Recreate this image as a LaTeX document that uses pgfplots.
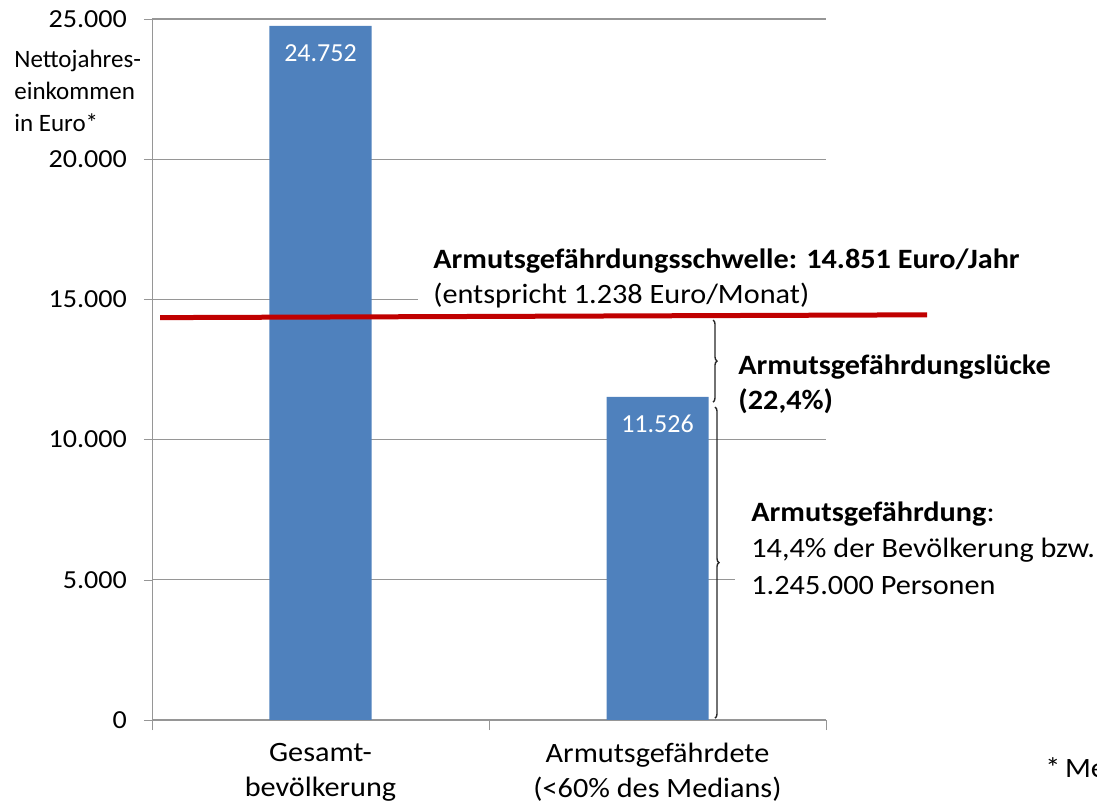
\documentclass[border=0pt]{standalone}
\usepackage{pgfplots}
\pgfplotsset{compat=1.18}
\usepackage{fontspec}
\setmainfont{Carlito}
\newfontfamily\annfont{Carlito}[FakeStretch=1.08]
\usetikzlibrary{decorations.pathreplacing}
\definecolor{barblue}{RGB}{79,129,189}
\definecolor{threshred}{RGB}{192,0,0}
\definecolor{gridgray}{RGB}{150,150,150}
\newcommand{\ann}{\annfont\fontsize{14}{16}\selectfont}
\begin{document}
\begin{tikzpicture}[font=\fontsize{12.5}{15}\selectfont]
\begin{axis}[
  at={(0pt,0pt)}, anchor=south west,
  scale only axis, width=337pt, height=350.5pt,
  xmin=-0.5, xmax=1.5, ymin=0, ymax=25000,
  axis x line*=bottom, axis y line*=left,
  axis line style={draw=gridgray},
  ytick={0,5000,10000,15000,20000,25000},
  scaled y ticks=false,
  ymajorgrids, grid style={draw=gridgray, line width=0.6pt},
  xtick={0,1},
  xticklabels={{Gesamt-\\bevölkerung},{Armutsgefährdete\\(<60\% des Medians)}},
  xticklabel style={align=center, font=\annfont\fontsize{14}{17.5}\selectfont, yshift=-4pt},
  minor xtick={-0.5,0.5,1.5},
  major x tick style={draw=none},
  minor x tick style={draw=gridgray},
  y tick style={draw=gridgray},
  tick align=outside, major tick length=4pt, minor tick length=5pt,
  yticklabel style={font=\annfont\fontsize{13}{15}\selectfont, xshift=-5pt},
  /pgf/number format/.cd, fixed, 1000 sep={.}, assume math mode=true,
  /pgfplots/.cd,
  clip=false,
  nodes near coords,
  every node near coord/.append style={anchor=base, yshift=-18pt, text=white, font=\fontsize{13}{15}\selectfont},
]
\addplot[ybar, bar width=51pt, fill=barblue, draw=none] coordinates {(0,24752) (1,11526)};
\addplot[threshred, line width=2.5pt, no marks, nodes near coords={}] coordinates {(-0.476,14350) (1.80,14450)};
\draw[line width=0.7pt, draw=black!85, decorate, decoration={brace, amplitude=2pt}] (axis cs:1.1647,14265) -- (axis cs:1.1647,11340);
\draw[line width=0.7pt, draw=black!85, decorate, decoration={brace, amplitude=2pt}] (axis cs:1.1706,11160) -- (axis cs:1.1706,70);
\end{axis}
\begin{scope}[x=0.5pt, y=-0.5pt, shift={(-76pt,360pt)}]
  % white boxes covering gridlines behind annotations
  \fill[white] (418,284) rectangle (826,306);
  \fill[white] (735,570) rectangle (826,598);
  \node[anchor=base west, inner sep=0] at (433,269) {\ann\bfseries Armutsgefährdungsschwelle: 14.851 Euro/Jahr};
  \node[anchor=base west, inner sep=0] at (433,304) {\ann (entspricht 1.238 Euro/Monat)};
  \node[anchor=base west, inner sep=0] at (738,375) {\ann\bfseries Armutsgefährdungslücke};
  \node[anchor=base west, inner sep=0] at (738,410) {\ann\bfseries (22,4\%)};
  \node[anchor=base west, inner sep=0] at (751,522) {\ann\textbf{Armutsgefährdung}:};
  \node[anchor=base west, inner sep=0] at (751,558) {\ann 14,4\% der Bevölkerung bzw.};
  \node[anchor=base west, inner sep=0] at (751,595) {\ann 1.245.000 Personen};
  \node[anchor=base west, inner sep=0] at (14,68) {Nettojahres-};
  \node[anchor=base west, inner sep=0] at (14,100) {einkommen};
  \node[anchor=base west, inner sep=0] at (14,132) {in Euro*};
  \node[anchor=base west, inner sep=0] at (1045,778) {\ann *\,Median-Nettojahreseinkommen};
\end{scope}
\pgfresetboundingbox
\begin{scope}[x=0.5pt, y=-0.5pt, shift={(-76pt,360pt)}]
  \path[use as bounding box] (0,0) rectangle (1097,802);
\end{scope}
\end{tikzpicture}
\end{document}
